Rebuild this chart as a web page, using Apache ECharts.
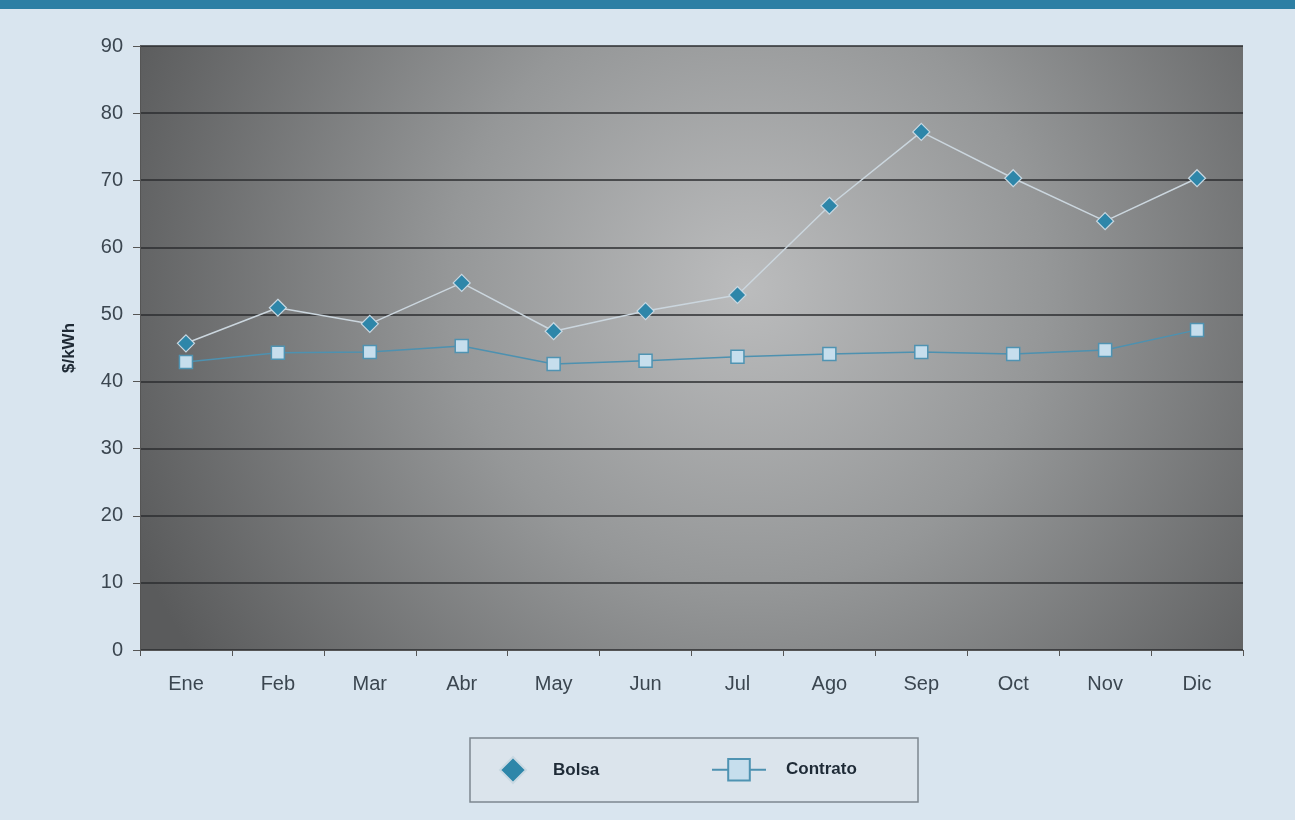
<!DOCTYPE html>
<html><head><meta charset="utf-8">
<script src="https://cdn.jsdelivr.net/npm/echarts@6/dist/echarts.min.js"></script>
<style>html,body{margin:0;padding:0;background:#d9e5ef;}#c{width:1295px;height:820px;}</style>
</head><body><div id="c"></div>
<script>
const months = ['Ene','Feb','Mar','Abr','May','Jun','Jul','Ago','Sep','Oct','Nov','Dic'];
const bolsa = [45.7, 51.0, 48.6, 54.7, 47.5, 50.5, 52.9, 66.2, 77.2, 70.3, 63.9, 70.3];
const contrato = [42.9, 44.3, 44.4, 45.3, 42.6, 43.1, 43.7, 44.1, 44.4, 44.1, 44.7, 47.7];
const yTicks = [0,10,20,30,40,50,60,70,80,90];

const chart = echarts.init(document.getElementById('c'), null, {renderer:'canvas'});
chart.setOption({
  backgroundColor: '#d9e5ef',
  animation: false,
  graphic: [
    {type:'rect', shape:{x:0,y:0,width:1295,height:9}, style:{fill:'#2d7fa4'}, z:-1},
    {type:'rect', shape:{x:470,y:738,width:448,height:64}, style:{fill:'#dbe4ec', stroke:'#7d8790', lineWidth:1.5}, z:-1}
  ],
  grid: {
    left: 140, right: 52, top: 46, bottom: 170, show: true, borderWidth: 0,
    backgroundColor: {
      type:'radial', x:0.55, y:0.4, r:1.1,
      colorStops:[{offset:0,color:'#bbbcbd'},{offset:0.45,color:'#959798'},{offset:1,color:'#5a5b5c'}]
    }
  },
  xAxis: {
    type:'category', data: months, boundaryGap:true,
    axisLine:{show:true, lineStyle:{color:'#555', width:1.2}},
    axisTick:{show:true, length:6, lineStyle:{color:'#555'}},
    axisLabel:{fontFamily:'Liberation Sans, Arial', fontSize:20, color:'#3b4650', margin:24}
  },
  yAxis: {
    type:'value', min:0, max:90, interval:10,
    name:'$/kWh', nameLocation:'middle', nameGap:62, nameRotate:90,
    nameTextStyle:{fontFamily:'Liberation Sans, Arial', fontSize:17, fontWeight:'bold', color:'#1f2a35'},
    axisLine:{show:true, lineStyle:{color:'#555', width:1}},
    axisTick:{show:true, length:7, lineStyle:{color:'#555'}},
    axisLabel:{fontFamily:'Liberation Sans, Arial', fontSize:20, color:'#3b4650', margin:17,
      formatter: v => yTicks.includes(v) ? String(v) : ''},
    splitLine:{show:true, lineStyle:{color:'#2b2d2f', width:1.5}}
  },
  legend: [
    {data:[{name:'Bolsa', icon:'diamond'}], left:494, top:751, itemWidth:26, itemHeight:26,
     textStyle:{fontFamily:'Liberation Sans, Arial', fontSize:17, fontWeight:'bold', color:'#1e2a36', padding:[0,0,0,22]}},
    {data:['Contrato'], left:706, top:753, itemWidth:54, itemHeight:27,
     textStyle:{fontFamily:'Liberation Sans, Arial', fontSize:17, fontWeight:'bold', color:'#1e2a36', padding:[0,0,0,15]}}
  ],
  series: [
    {name:'Bolsa', type:'line', data: bolsa, symbol:'diamond', symbolSize:17,
     lineStyle:{color:'#cbd6de', width:1.5},
     itemStyle:{color:'#2e86a9', borderColor:'#c9d8e2', borderWidth:1.2}, z:3},
    {name:'Contrato', type:'line', data: contrato, symbol:'rect', symbolSize:13,
     lineStyle:{color:'#4d91b0', width:1.5},
     itemStyle:{color:'#c6deed', borderColor:'#4f93b2', borderWidth:1.5}, z:2}
  ]
});
</script></body></html>
